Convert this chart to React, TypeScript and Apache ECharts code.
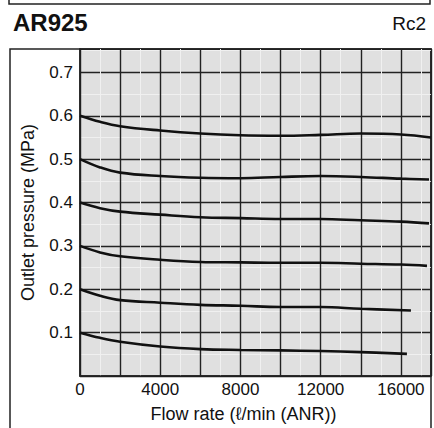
import React, { useEffect, useRef } from "react";
import * as echarts from "echarts";

// Flow rate (l/min (ANR)) sample points and outlet pressure (MPa) for each set pressure curve
const flow06 = [0, 1000, 2000, 4000, 6000, 8000, 10000, 12000, 14000, 16000, 17500];
const pres06 = [0.6, 0.586, 0.576, 0.566, 0.559, 0.555, 0.554, 0.556, 0.559, 0.557, 0.55];

const flow05 = [0, 1000, 2000, 4000, 6000, 8000, 10000, 12000, 14000, 16000, 17400];
const pres05 = [0.5, 0.481, 0.469, 0.461, 0.457, 0.456, 0.459, 0.461, 0.459, 0.455, 0.453];

const flow04 = [0, 1000, 2000, 4000, 6000, 8000, 10000, 12000, 14000, 16000, 17400];
const pres04 = [0.4, 0.387, 0.379, 0.372, 0.366, 0.364, 0.362, 0.362, 0.359, 0.356, 0.352];

const flow03 = [0, 1000, 2000, 4000, 6000, 8000, 10000, 12000, 14000, 16000, 17300];
const pres03 = [0.3, 0.285, 0.276, 0.268, 0.263, 0.262, 0.261, 0.261, 0.259, 0.257, 0.254];

const flow02 = [0, 1000, 2000, 4000, 6000, 8000, 10000, 12000, 14000, 16500];
const pres02 = [0.2, 0.185, 0.175, 0.169, 0.164, 0.162, 0.159, 0.159, 0.155, 0.151];

const flow01 = [0, 1000, 2000, 4000, 6000, 8000, 10000, 12000, 14000, 16300];
const pres01 = [0.1, 0.088, 0.079, 0.068, 0.062, 0.06, 0.059, 0.0575, 0.055, 0.051];

const xLabels = [0, 4000, 8000, 12000, 16000];
const yLabels = [0.1, 0.2, 0.3, 0.4, 0.5, 0.6, 0.7];

const curves = [
  { name: "0.6", x: flow06, y: pres06 },
  { name: "0.5", x: flow05, y: pres05 },
  { name: "0.4", x: flow04, y: pres04 },
  { name: "0.3", x: flow03, y: pres03 },
  { name: "0.2", x: flow02, y: pres02 },
  { name: "0.1", x: flow01, y: pres01 },
];

const FONT = "'Liberation Sans', Arial, Helvetica, sans-serif";

export default function App() {
  const ref = useRef<HTMLDivElement>(null);

  useEffect(() => {
    if (!ref.current) return;
    const chart = echarts.init(ref.current, null, { renderer: "svg" });
    const option: any = {
      animation: false,
      backgroundColor: "#ffffff",
      textStyle: { fontFamily: FONT },
      title: [
        {
          text: "AR925",
          left: 8,
          top: 5,
          textStyle: { fontFamily: FONT, fontSize: 24, fontWeight: "bold", color: "#111" },
        },
        {
          text: "Rc2",
          right: 3,
          top: 9,
          textStyle: { fontFamily: FONT, fontSize: 19, fontWeight: "normal", color: "#111" },
        },
      ],
      grid: {
        left: 80,
        top: 49,
        right: 3,
        bottom: 51,
        show: true,
        backgroundColor: "#e0e0e0",
        borderColor: "#222",
        borderWidth: 1.5,
      },
      xAxis: {
        type: "value",
        min: 0,
        max: 17500,
        interval: 2000,
        name: "Flow rate (ℓ/min (ANR))",
        nameLocation: "middle",
        nameGap: 29,
        nameTextStyle: { fontFamily: FONT, fontSize: 18, color: "#111", padding: [0, 24, 0, 0] },
        axisLine: { show: true, lineStyle: { color: "#222", width: 1.5 } },
        axisTick: { show: false },
        axisLabel: {
          fontFamily: FONT,
          fontSize: 17,
          color: "#111",
          margin: 5,
          formatter: (v: number) => (xLabels.indexOf(v) >= 0 ? String(v) : ""),
        },
        splitLine: { show: true, lineStyle: { color: "#222", width: 1.4 } },
        minorTick: { show: false, splitNumber: 2 },
        minorSplitLine: { show: true, lineStyle: { color: "#f0f0f0", width: 1 } },
      },
      yAxis: {
        type: "value",
        min: 0,
        max: 0.754,
        interval: 0.1,
        name: "Outlet pressure (MPa)",
        nameLocation: "middle",
        nameGap: 43,
        nameTextStyle: { fontFamily: FONT, fontSize: 18, color: "#111" },
        axisLine: { show: true, lineStyle: { color: "#222", width: 1.5 } },
        axisTick: { show: false },
        axisLabel: {
          fontFamily: FONT,
          fontSize: 17,
          color: "#111",
          margin: 7,
          formatter: (v: number) => {
            const r = Math.round(v * 10) / 10;
            return Math.abs(r - v) < 1e-6 && yLabels.indexOf(r) >= 0 ? r.toFixed(1) : "";
          },
        },
        splitLine: { show: true, lineStyle: { color: "#222", width: 1.4 } },
        minorTick: { show: false, splitNumber: 2 },
        minorSplitLine: { show: true, lineStyle: { color: "#f0f0f0", width: 1 } },
      },
      series: curves.map((c) => ({
        name: c.name,
        type: "line",
        smooth: 0.4,
        showSymbol: false,
        symbol: "none",
        data: c.x.map((xv, i) => [xv, c.y[i]]),
        lineStyle: { color: "#111", width: 2.6 },
        z: 5,
      })),
      graphic: [
        {
          type: "polyline",
          shape: { points: [[9, 0], [9, 4], [430, 4], [430, 0]] },
          style: { stroke: "#222", fill: "none", lineWidth: 1.5 },
          silent: true,
        },
        {
          type: "polyline",
          shape: { points: [[10, 428], [10, 49], [431, 49], [431, 428]] },
          style: { stroke: "#222", fill: "none", lineWidth: 1.5 },
          silent: true,
        },
      ],
    };
    chart.setOption(option);
    return () => {
      chart.dispose();
    };
  }, []);

  return (
    <div
      ref={ref}
      style={{ position: "fixed", left: 0, top: 0, width: 434, height: 428 }}
    />
  );
}
